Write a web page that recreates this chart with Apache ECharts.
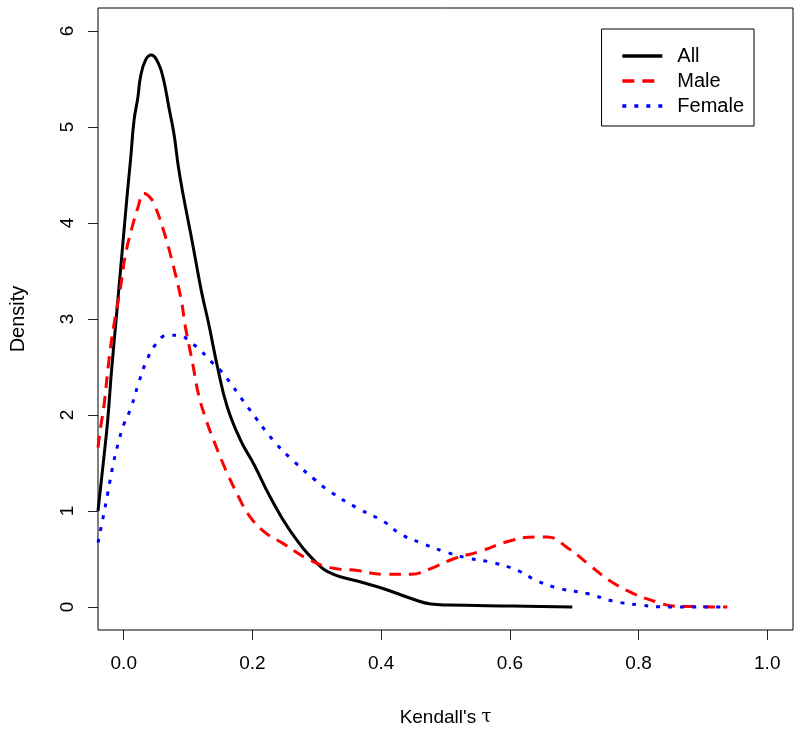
<!DOCTYPE html>
<html>
<head>
<meta charset="utf-8">
<script src="https://cdn.jsdelivr.net/npm/echarts@6/dist/echarts.min.js"></script>
<style>html,body{margin:0;padding:0;background:#fff}#c{width:800px;height:735px}</style>
</head>
<body>
<div id="c"></div>
<script>
// Data (x = Kendall's tau, y = density)
const allX = [-0.040,-0.031,-0.025,-0.019,-0.012,-0.005,0.000,0.006,0.011,0.016,0.022,0.026,0.034,0.043,0.054,0.062,0.070,0.078,0.085,0.093,0.104,0.109,0.121,0.132,0.146,0.161,0.182,0.202,0.228,0.259,0.301,0.326,0.363,0.404,0.450,0.477,0.503,0.606,0.697];
const allY = [1.0,1.55,1.94,2.46,2.98,3.51,3.89,4.34,4.69,5.07,5.31,5.52,5.7,5.75,5.66,5.49,5.21,4.93,4.58,4.27,3.89,3.71,3.28,2.95,2.49,2.08,1.73,1.49,1.14,0.79,0.45,0.34,0.27,0.19,0.08,0.03,0.02,0.01,0.0];
const maleX = [-0.040,-0.036,-0.031,-0.023,-0.016,-0.005,0.003,0.016,0.022,0.031,0.039,0.047,0.062,0.076,0.089,0.096,0.107,0.116,0.127,0.140,0.161,0.179,0.193,0.217,0.248,0.286,0.321,0.363,0.404,0.446,0.477,0.512,0.554,0.601,0.643,0.658,0.689,0.725,0.756,0.792,0.829,0.854,0.938];
const maleY = [1.66,1.87,2.08,2.57,2.91,3.33,3.68,4.03,4.16,4.31,4.28,4.2,3.92,3.58,3.21,2.91,2.54,2.22,1.97,1.73,1.39,1.14,0.97,0.79,0.66,0.5,0.41,0.38,0.34,0.34,0.4,0.5,0.58,0.69,0.73,0.73,0.62,0.43,0.27,0.14,0.05,0.01,0.0];
const femaleX = [-0.040,-0.031,-0.025,-0.016,-0.008,0.000,0.011,0.023,0.034,0.050,0.068,0.085,0.107,0.120,0.132,0.151,0.193,0.233,0.264,0.298,0.321,0.363,0.404,0.430,0.461,0.497,0.534,0.575,0.612,0.643,0.679,0.720,0.761,0.803,0.845,0.938];
const femaleY = [0.67,0.97,1.18,1.5,1.72,1.9,2.07,2.33,2.54,2.74,2.83,2.83,2.74,2.67,2.58,2.46,2.08,1.73,1.52,1.32,1.2,1.03,0.89,0.76,0.67,0.58,0.51,0.46,0.38,0.27,0.19,0.14,0.06,0.02,0.0,0.0];
const xTicks = [0, 0.2, 0.4, 0.6, 0.8, 1.0];
const yTicks = [0, 1, 2, 3, 4, 5, 6];
const seriesNames = ['All', 'Male', 'Female'];

const zip = (xs, ys) => xs.map((x, i) => [x, ys[i]]);
const font = 'Liberation Sans, Arial, sans-serif';

const chart = echarts.init(document.getElementById('c'), null, {renderer: 'canvas'});
chart.setOption({
  animation: false,
  backgroundColor: '#fff',
  grid: {left: 97, right: 7, top: 8, bottom: 105, show: true, borderColor: '#000', borderWidth: 1, backgroundColor: 'transparent'},
  xAxis: {
    type: 'value', min: -0.04, max: 1.04,
    axisLine: {show: false, onZero: false},
    splitLine: {show: false},
    axisTick: {show: true, length: 10, customValues: xTicks, lineStyle: {color: '#222', width: 1}},
    axisLabel: {customValues: xTicks, margin: 24, color: '#000', fontSize: 19, fontFamily: font,
      formatter: v => v.toFixed(1)},
    name: "Kendall's {t|τ}", nameLocation: 'middle', nameGap: 78,
    nameTextStyle: {color: '#000', fontSize: 19, fontFamily: font,
      rich: {t: {fontFamily: 'DejaVu Serif, Liberation Serif, serif', fontSize: 18, color: '#000'}}}
  },
  yAxis: {
    type: 'value', min: -0.24, max: 6.24,
    axisLine: {show: false, onZero: false},
    splitLine: {show: false},
    axisTick: {show: true, length: 10, customValues: yTicks, lineStyle: {color: '#222', width: 1}},
    axisLabel: {customValues: yTicks, margin: 21, rotate: 90, color: '#000', fontSize: 19, fontFamily: font},
    name: 'Density', nameLocation: 'middle', nameGap: 70, nameRotate: 90,
    nameTextStyle: {color: '#000', fontSize: 20, fontFamily: font}
  },
  legend: {
    show: true, orient: 'vertical', right: 46, top: 29,
    data: seriesNames,
    itemWidth: 40, itemHeight: 14, itemGap: 3,
    padding: [16, 10, 9, 19],
    borderColor: '#000', borderWidth: 1, borderRadius: 0,
    backgroundColor: '#fff',
    itemStyle: {opacity: 0},
    lineStyle: {width: 3.5},
    textStyle: {color: '#000', fontSize: 20, lineHeight: 22, fontFamily: font, padding: [0, 0, 0, 10]}
  },
  series: [
    {name: seriesNames[0], type: 'line', data: zip(allX, allY), showSymbol: false, symbol: 'none', smooth: 0.45,
      lineStyle: {color: '#000', width: 3}, itemStyle: {color: '#000'}},
    {name: seriesNames[1], type: 'line', data: zip(maleX, maleY), showSymbol: false, symbol: 'none', smooth: 0.45,
      lineStyle: {color: '#FF0000', width: 3, type: [12, 8]}, itemStyle: {color: '#FF0000'}},
    {name: seriesNames[2], type: 'line', data: zip(femaleX, femaleY), showSymbol: false, symbol: 'none', smooth: 0.45,
      lineStyle: {color: '#0000FF', width: 3, type: [4, 8]}, itemStyle: {color: '#0000FF'}}
  ]
});
</script>
</body>
</html>
